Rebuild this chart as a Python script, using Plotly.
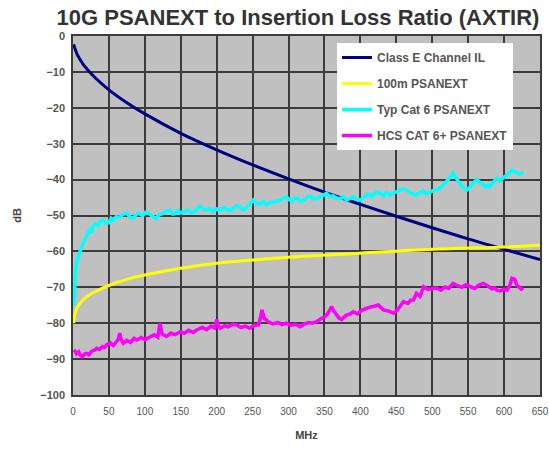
import plotly.graph_objects as go

# ---- data ----
f_il = [1, 2, 4, 6, 10, 15, 20, 31.25, 50, 75, 100, 150, 200, 250, 300, 350, 400, 450, 500, 550, 600, 650]
il_db = [-2.3, -3.1, -4.2, -5.2, -6.6, -8.1, -9.3, -11.7, -15.0, -18.6, -21.7, -27.1, -31.7, -35.9,
         -39.8, -43.5, -46.9, -50.2, -53.4, -56.5, -59.4, -62.3]

f_lim = [1, 2, 5, 10, 20, 30, 50, 75, 100, 150, 200, 250, 300, 400, 500, 600, 650]
lim_db = [-80, -78, -76, -74.4, -72.5, -71.3, -69.5, -67.8, -66.6, -64.7, -63.3, -62.4, -61.6,
          -60.5, -59.4, -58.8, -58.3]

f_typ = [1, 2, 3, 4, 5, 6, 7, 8, 10, 12, 14, 16, 18, 20, 23, 26, 28, 31, 35, 38, 42, 46, 50, 53,
         56, 60, 65, 70, 75, 80, 85, 90, 97, 101, 106, 111, 116, 120, 125, 130, 135, 139, 142, 146,
         149, 155, 160, 165, 170, 174, 177, 182, 186, 190, 195, 200, 205, 210, 214, 219, 223, 228,
         232, 236, 240, 246, 251, 255, 260, 265, 270, 275, 280, 285, 290, 297, 301, 305, 309, 313,
         317, 321, 326, 330, 335, 340, 346, 353, 357, 362, 367, 372, 377, 381, 386, 390, 395, 400,
         405, 410, 416, 423, 428, 432, 436, 441, 446, 450, 455, 460, 465, 469, 474, 478, 483, 487,
         491, 496, 501, 506, 511, 515, 519, 522, 526, 529, 533, 536, 539, 542, 545, 548, 552, 555,
         559, 562, 566, 570, 573, 575, 578, 580, 583, 585, 588, 590, 594, 597, 601, 604, 608, 611,
         614, 617, 620, 622, 625, 627]
typ_db = [-75, -70, -66, -64.5, -63, -62.2, -61.5, -61, -60, -58.6, -57.7, -57.2, -56, -55.6, -54,
          -54.8, -53, -52.3, -52.8, -51.6, -51.3, -52.2, -52, -50.8, -51.3, -50.4, -50.5, -49.6,
          -49.4, -50.6, -50.5, -49.3, -50, -49.1, -49.5, -50.3, -50.8, -49.7, -49.5, -48.8, -48.5,
          -49.6, -49.5, -48.6, -49.3, -48.9, -48.5, -49.2, -48.9, -47.9, -47.5, -48.3, -48.5,
          -48.0, -48.9, -48.2, -48.5, -47.7, -48.3, -48.6, -48, -47.3, -47.6, -48.4, -48.2, -46.9,
          -45.7, -46.6, -46.8, -46.1, -47, -46.4, -46.2, -45.9, -45.5, -44.8, -45.6, -46, -45.1,
          -45.3, -46.1, -45.7, -44.9, -44.6, -45.4, -45.2, -44.6, -43.8, -44.7, -44.5, -45.1,
          -45.3, -44.8, -45.7, -45.2, -44.8, -45.5, -45.7, -44.9, -44, -44.6, -43.4, -43.9, -44.5,
          -43.6, -44.3, -43.8, -43.3, -42.9, -42.5, -43.1, -43.5, -44.1, -44.3, -43.5, -43.2,
          -43.9, -43.6, -43.1, -42.9, -42.3, -41.5, -40.8, -40, -39.1, -38.2, -39.4, -40.5, -41.4,
          -42, -42.4, -42.9, -42.2, -41.3, -40.6, -40, -40.7, -41.2, -41.8, -42, -41.5, -42,
          -41.2, -40.8, -40.1, -39.6, -40.2, -39.8, -39.2, -38.7, -38.1, -37.3, -37.6, -38,
          -38.4, -38.5, -38.1, -38.2]

f_hcs = [1, 3, 5, 8, 10, 13, 16, 19, 22, 26, 30, 33, 37, 41, 44, 47, 52, 56, 60, 63, 65, 67, 70,
         75, 80, 85, 89, 95, 100, 107, 113, 118, 121, 124, 130, 136, 142, 149, 155, 161, 167, 172,
         180, 186, 192, 197, 200, 203, 205, 211, 216, 222, 228, 234, 240, 246, 252, 258, 261, 263,
         266, 272, 278, 285, 291, 297, 303, 310, 316, 322, 328, 333, 339, 345, 350, 355, 358, 360,
         363, 367, 370, 374, 380, 385, 390, 396, 402, 409, 415, 420, 425, 432, 439, 446, 451, 456,
         460, 466, 470, 474, 478, 483, 488, 494, 500, 506, 512, 518, 523, 529, 535, 541, 547, 553,
         559, 565, 571, 577, 583, 587, 590, 595, 600, 604, 608, 611, 615, 618, 620, 624, 627]
hcs_db = [-87.5, -87.8, -88.5, -88, -88.9, -89.3, -88.6, -88.4, -88.8, -87.8, -87.5, -87, -87.3,
          -86.5, -86.8, -86, -85.5, -86.2, -85.3, -84.5, -82.8, -84.6, -85.6, -84.8, -85.3, -84.2,
          -84.7, -84, -84.6, -83.7, -83.2, -83.9, -80, -83, -83.7, -82.8, -83.2, -82.4, -82.8, -82,
          -82.6, -81.9, -81.2, -81.8, -80.8, -81.3, -79, -81, -81.4, -80.7, -81, -80.3, -80.5,
          -81.2, -80.8, -81.4, -80.6, -80.5, -78.5, -76.3, -78.6, -79.6, -80.2, -79.8, -80.4, -80,
          -80.6, -80.3, -81, -80.2, -79.8, -80, -79.6, -78.8, -78.3, -77.2, -76.2, -75.4, -76.6,
          -77.5, -78.5, -79, -77.8, -77.5, -76.8, -77.4, -76.4, -75.8, -75.6, -75.2, -74.9, -76.3,
          -76.6, -77.2, -76.4, -75, -74, -74.5, -73.6, -73.5, -71.7, -72.5, -69.8, -70.6, -70.4,
          -70.2, -70.8, -69.9, -70.3, -68.9, -69.5, -70, -69.3, -69.8, -70.3, -69.4, -68.9, -69.6,
          -70.4, -70.2, -70.8, -71, -70.5, -70.8, -69.5, -67.5, -67.8, -69.5, -69.8, -70.5, -70.2]

names = ["Class E Channel IL", "100m PSANEXT", "Typ Cat 6 PSANEXT", "HCS CAT 6+ PSANEXT"]
colors = ["#000080", "#ffff00", "#00ffff", "#ff00ff"]

FONT = "Arial, Liberation Sans, sans-serif"

fig = go.Figure()
fig.add_trace(go.Scatter(x=f_il, y=il_db, mode="lines", name=names[0], legendgroup="a",
                         line=dict(color=colors[0], width=3, shape="spline")))
fig.add_trace(go.Scatter(x=f_lim, y=lim_db, mode="lines", name=names[1], legendgroup="b",
                         line=dict(color=colors[1], width=3, shape="spline")))
fig.add_trace(go.Scatter(x=f_typ, y=typ_db, mode="lines", name=names[2], legendgroup="c",
                         line=dict(color=colors[2], width=3.5)))
fig.add_trace(go.Scatter(x=f_hcs, y=hcs_db, mode="lines", name=names[3], legendgroup="d",
                         line=dict(color=colors[3], width=3.5)))

axis_common = dict(showgrid=True, gridcolor="#3c3c3c", gridwidth=1.5, showline=True, mirror=True,
                   linecolor="#3c3c3c", linewidth=1.5, zeroline=False, ticks="", automargin=False)

fig.update_layout(
    width=549, height=456,
    margin=dict(l=73, r=9, t=36, b=61, autoexpand=False),
    paper_bgcolor="white", plot_bgcolor="#c0c0c0",
    font=dict(family=FONT, color="#444"),
    title=dict(text="<b>10G PSANEXT to Insertion Loss Ratio (AXTIR)</b>",
               font=dict(family=FONT, size=22, color="#333"),
               x=298 / 549, xanchor="center", xref="container", y=1 - 17 / 456, yref="container",
               yanchor="middle"),
    xaxis=dict(range=[0, 650], tick0=0, dtick=50, ticklabelstandoff=6,
               tickfont=dict(family=FONT, size=10, color="#555"),
               title=dict(text="<b>MHz</b>", font=dict(family=FONT, size=11, color="#444"),
                          standoff=16),
               **axis_common),
    yaxis=dict(range=[-100, 0], tick0=0, dtick=10, ticklabelstandoff=4,
               tickfont=dict(family=FONT, size=11, color="#555", weight="bold"),
               title=dict(text="<b>dB</b>", font=dict(family=FONT, size=11, color="#444"),
                          standoff=16),
               **axis_common),
    legend=dict(x=(337 - 73) / 467, y=1 - (43 - 36) / 359, xanchor="left", yanchor="top",
                bgcolor="white", bordercolor="white", borderwidth=0,
                font=dict(family=FONT, size=12, color="#555", weight="bold"),
                tracegroupgap=7, itemwidth=30),
    showlegend=True,
)

fig.write_html("out.html", post_script="document.body.style.margin='0px';",
               config={"displayModeBar": False})
